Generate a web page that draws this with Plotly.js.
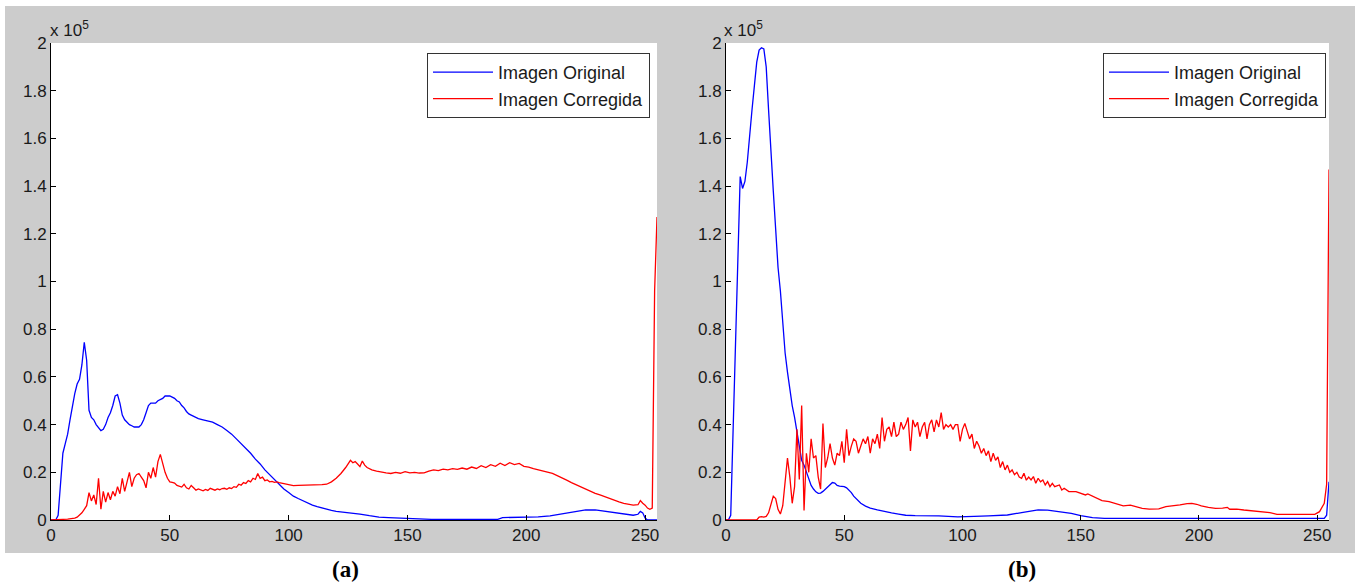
<!DOCTYPE html>
<html>
<head>
<meta charset="utf-8">
<script src="https://cdn.plot.ly/plotly-3.0.1.min.js"></script>
<style>
  html, body { margin: 0; padding: 0; background: #ffffff; }
  #chart { width: 1359px; height: 582px; }
</style>
</head>
<body>
<div id="chart"></div>
<script>
// Grey-level histograms (counts in units of 10^5 pixels), [level, count] pairs.
// Panel (a)
const originalA = [[0,0],[2,0],[3,0.02],[4,0.15],[5,0.28],[6,0.32],[7,0.36],[8,0.42],[9,0.48],[10,0.53],
  [11,0.57],[12,0.59],[13,0.65],[14,0.745],[15,0.67],[16,0.46],[17,0.43],[18,0.42],[19,0.40],[20,0.385],
  [21,0.375],[22,0.38],[23,0.40],[24,0.43],[25,0.45],[26,0.48],[27,0.52],[28,0.525],[29,0.49],[30,0.44],
  [31,0.42],[32,0.41],[33,0.40],[34,0.395],[35,0.39],[36,0.39],[37,0.39],[38,0.40],[39,0.42],[40,0.45],
  [41,0.48],[42,0.49],[43,0.49],[44,0.49],[45,0.50],[46,0.505],[47,0.51],[48,0.52],[49,0.52],[50,0.52],
  [51,0.515],[52,0.51],[53,0.50],[54,0.495],[55,0.48],[56,0.47],[57,0.455],[58,0.445],[59,0.44],[60,0.435],
  [62,0.425],[64,0.42],[66,0.415],[68,0.41],[70,0.40],[72,0.39],[74,0.375],[76,0.36],[78,0.34],[80,0.32],
  [82,0.30],[84,0.28],[86,0.255],[88,0.235],[90,0.21],[92,0.19],[94,0.17],[96,0.15],[98,0.13],[100,0.115],
  [102,0.10],[104,0.09],[106,0.08],[108,0.07],[110,0.062],[112,0.056],[114,0.05],[116,0.046],[118,0.04],[120,0.036],
  [122,0.034],[126,0.028],[130,0.025],[134,0.018],[138,0.012],[142,0.01],[146,0.008],[150,0.007],[155,0.005],[160,0.003],
  [170,0.003],[180,0.003],[188,0.003],[190,0.01],[195,0.011],[200,0.011],[205,0.013],[210,0.017],[213,0.022],[217,0.031],
  [221,0.037],[225,0.042],[229,0.042],[233,0.037],[237,0.032],[240,0.028],[243,0.022],[245,0.02],[247,0.024],[248,0.036],
  [249,0.03],[250,0.008],[251,0],[255,0]];

const correctedA = [[0,0],[4,0],[5,0.003],[7,0.004],[9,0.005],[10,0.008],[11,0.012],[12,0.02],[13,0.03],[14,0.045],
  [15,0.06],[16,0.115],[17,0.08],[18,0.105],[19,0.065],[20,0.175],[21,0.045],[22,0.12],[23,0.075],[24,0.115],
  [25,0.085],[26,0.12],[27,0.1],[28,0.14],[29,0.11],[30,0.175],[31,0.12],[32,0.16],[33,0.2],[34,0.14],
  [35,0.175],[36,0.19],[37,0.195],[38,0.18],[39,0.165],[40,0.135],[41,0.2],[42,0.175],[43,0.22],[44,0.18],
  [45,0.245],[46,0.275],[47,0.235],[48,0.2],[49,0.175],[50,0.16],[51,0.158],[52,0.155],[53,0.145],[54,0.14],
  [55,0.138],[56,0.15],[57,0.135],[58,0.13],[59,0.145],[60,0.135],[61,0.125],[62,0.13],[63,0.125],[64,0.122],
  [65,0.128],[66,0.124],[67,0.133],[68,0.128],[69,0.125],[70,0.13],[71,0.127],[72,0.132],[73,0.133],[74,0.129],
  [75,0.135],[76,0.132],[77,0.14],[78,0.137],[79,0.15],[80,0.146],[81,0.157],[82,0.153],[83,0.165],[84,0.16],
  [85,0.175],[86,0.17],[87,0.195],[88,0.175],[89,0.18],[90,0.165],[91,0.168],[92,0.16],[93,0.162],[94,0.158],
  [95,0.16],[96,0.157],[97,0.155],[98,0.152],[99,0.153],[100,0.148],[102,0.144],[104,0.145],[106,0.145],
  [108,0.146],[110,0.145],[112,0.147],[114,0.148],[116,0.15],[118,0.16],[120,0.175],[122,0.195],[124,0.22],[126,0.25],
  [127,0.24],[128,0.245],[129,0.235],[130,0.224],[131,0.247],[132,0.23],[133,0.22],[135,0.21],[137,0.205],[139,0.2],
  [141,0.198],[143,0.195],[145,0.2],[147,0.196],[149,0.203],[151,0.198],[153,0.2],[155,0.197],[157,0.198],[159,0.205],
  [161,0.21],[163,0.207],[165,0.213],[167,0.21],[169,0.215],[171,0.212],[173,0.218],[175,0.213],[177,0.222],[179,0.216],
  [181,0.228],[183,0.22],[185,0.232],[187,0.225],[189,0.238],[191,0.228],[193,0.24],[195,0.232],[197,0.237],[199,0.225],
  [201,0.222],[203,0.215],[205,0.21],[207,0.208],[209,0.203],[211,0.195],[213,0.186],[215,0.175],[217,0.167],[219,0.157],
  [221,0.148],[223,0.138],[225,0.128],[227,0.12],[229,0.112],[231,0.105],[233,0.097],[235,0.09],[237,0.083],[239,0.076],
  [241,0.07],[243,0.066],[245,0.062],[247,0.064],[248,0.081],[249,0.07],[250,0.062],[251,0.05],[252,0.045],[253,0.05],
  [254,0.96],[255,1.27]];

// Panel (b)
const originalB = [[0,0],[1,0],[2,0.02],[3,0.35],[4,0.72],[5,1.08],[6,1.44],[7,1.39],[8,1.42],[9,1.50],
  [10,1.63],[11,1.72],[12,1.82],[13,1.92],[14,1.97],[15,1.98],[16,1.975],[17,1.90],[18,1.72],[19,1.52],
  [20,1.38],[21,1.22],[22,1.06],[23,0.96],[24,0.82],[25,0.70],[26,0.62],[27,0.54],[28,0.48],[29,0.43],
  [30,0.37],[31,0.30],[32,0.25],[33,0.23],[34,0.20],[35,0.17],[36,0.145],[37,0.13],[38,0.118],[39,0.112],
  [40,0.113],[41,0.12],[42,0.13],[43,0.14],[44,0.15],[45,0.157],[46,0.155],[47,0.145],[48,0.142],[49,0.141],
  [50,0.14],[51,0.135],[52,0.127],[53,0.115],[54,0.1],[55,0.09],[57,0.07],[59,0.058],[61,0.05],[64,0.042],
  [67,0.035],[70,0.03],[73,0.025],[76,0.02],[80,0.018],[90,0.017],[98,0.013],[101,0.013],[105,0.015],[111,0.017],
  [119,0.021],[125,0.031],[129,0.037],[132,0.042],[136,0.041],[140,0.037],[143,0.034],[146,0.028],[150,0.018],[155,0.01],
  [160,0.007],[200,0.007],[253,0.007],[254,0.02],[255,0.16]];

const correctedB = [[0,0],[13,0],[14,0.012],[15,0.014],[16,0.012],[17,0.015],[18,0.03],[19,0.07],[20,0.1],[21,0.09],
  [22,0.045],[23,0.025],[24,0.06],[25,0.16],[26,0.26],[27,0.18],[28,0.07],[29,0.14],[30,0.38],[31,0.17],
  [32,0.48],[33,0.04],[34,0.28],[35,0.2],[36,0.34],[37,0.26],[38,0.27],[39,0.18],[40,0.13],[41,0.405],
  [42,0.22],[43,0.26],[44,0.32],[45,0.26],[46,0.23],[47,0.28],[48,0.27],[49,0.33],[50,0.24],[51,0.38],
  [52,0.27],[53,0.31],[54,0.34],[55,0.33],[56,0.28],[57,0.31],[58,0.34],[59,0.32],[60,0.35],[61,0.28],
  [62,0.34],[63,0.32],[64,0.36],[65,0.30],[66,0.43],[67,0.33],[68,0.38],[69,0.39],[70,0.35],[71,0.41],
  [72,0.35],[73,0.36],[74,0.41],[75,0.38],[76,0.40],[77,0.43],[78,0.29],[79,0.42],[80,0.39],[81,0.41],
  [82,0.35],[83,0.39],[84,0.41],[85,0.34],[86,0.40],[87,0.42],[88,0.37],[89,0.42],[90,0.39],[91,0.45],
  [92,0.38],[93,0.40],[94,0.39],[95,0.40],[96,0.38],[97,0.40],[98,0.40],[99,0.33],[100,0.38],[101,0.405],
  [102,0.37],[103,0.34],[104,0.36],[105,0.30],[106,0.33],[107,0.31],[108,0.28],[109,0.30],[110,0.27],[111,0.29],
  [112,0.245],[113,0.28],[114,0.25],[115,0.265],[116,0.22],[117,0.245],[118,0.21],[119,0.23],[120,0.2],[121,0.21],
  [122,0.19],[123,0.2],[124,0.18],[125,0.175],[126,0.196],[127,0.167],[128,0.18],[129,0.168],[130,0.182],[131,0.154],
  [132,0.175],[133,0.16],[134,0.168],[135,0.147],[136,0.161],[137,0.14],[138,0.154],[139,0.14],[141,0.147],[142,0.126],
  [143,0.133],[145,0.119],[148,0.119],[150,0.112],[152,0.105],[153,0.109],[155,0.1],[157,0.09],[159,0.081],[162,0.077],
  [165,0.067],[168,0.059],[171,0.062],[173,0.056],[176,0.049],[179,0.046],[183,0.047],[186,0.056],[189,0.059],[192,0.063],
  [195,0.069],[197,0.07],[199,0.066],[201,0.059],[204,0.053],[207,0.049],[210,0.05],[212,0.053],[213,0.045],[216,0.046],
  [219,0.042],[223,0.038],[227,0.035],[230,0.031],[233,0.024],[240,0.024],[249,0.024],[251,0.035],[252,0.05],[253,0.07],
  [254,0.15],[255,1.47]];

const seriesNames = ['Imagen Original', 'Imagen Corregida'];
const seriesColors = ['#0000ff', '#ff0000'];
const xTicks = [0, 50, 100, 150, 200, 250];
const yTicks = [0, 0.2, 0.4, 0.6, 0.8, 1, 1.2, 1.4, 1.6, 1.8, 2];
const yTickText = ['0', '0.2', '0.4', '0.6', '0.8', '1', '1.2', '1.4', '1.6', '1.8', '2'];
const panelLabels = ['(a)', '(b)'];

// Page geometry in pixels, converted to paper fractions
const W = 1359, H = 582;
const fx = x => x / W;
const fy = y => 1 - y / H;

function line(pairs, idx, xa, ya, legend) {
  return {
    type: 'scatter', mode: 'lines',
    x: pairs.map(p => p[0]), y: pairs.map(p => p[1]),
    name: seriesNames[idx], xaxis: xa, yaxis: ya, legend: legend,
    line: { color: seriesColors[idx], width: 1.3 },
    hoverinfo: 'skip'
  };
}

const traces = [
  line(originalA, 0, 'x', 'y', 'legend'),
  line(correctedA, 1, 'x', 'y', 'legend'),
  line(originalB, 0, 'x2', 'y2', 'legend2'),
  line(correctedB, 1, 'x2', 'y2', 'legend2')
];

const tickFont = { family: 'Liberation Sans, Arial, sans-serif', size: 17, color: '#1a1a1a' };

function xAxis(domain, anchor) {
  return {
    domain: domain, anchor: anchor, range: [0, 255],
    tickmode: 'array', tickvals: xTicks, ticktext: xTicks.map(String),
    ticks: 'inside', ticklen: 5, tickwidth: 1, tickcolor: '#000',
    showline: true, linecolor: '#000', linewidth: 1,
    showgrid: false, zeroline: false, tickfont: tickFont, fixedrange: true
  };
}
function yAxis(domain, anchor) {
  return {
    domain: domain, anchor: anchor, range: [0, 2],
    tickmode: 'array', tickvals: yTicks, ticktext: yTickText,
    ticks: 'inside', ticklen: 5, tickwidth: 1, tickcolor: '#000',
    showline: true, linecolor: '#000', linewidth: 1,
    showgrid: false, zeroline: false, tickfont: tickFont, fixedrange: true
  };
}

const legendStyle = (xRight) => ({
  x: fx(xRight), xanchor: 'right', y: fy(53), yanchor: 'top',
  bgcolor: '#ffffff', bordercolor: '#333333', borderwidth: 1,
  font: { family: 'Liberation Sans, Arial, sans-serif', size: 18, color: '#1a1a1a' },
  itemwidth: 60, tracegroupgap: 0
});

const layout = {
  width: W, height: H,
  margin: { l: 0, r: 0, t: 0, b: 0 },
  paper_bgcolor: '#ffffff', plot_bgcolor: '#ffffff',
  showlegend: true,
  xaxis: xAxis([fx(51), fx(657)], 'y'),
  yaxis: yAxis([fy(520), fy(43)], 'x'),
  xaxis2: xAxis([fx(726), fx(1329)], 'y2'),
  yaxis2: yAxis([fy(520), fy(43)], 'x2'),
  legend: legendStyle(650),
  legend2: legendStyle(1326),
  shapes: [
    { type: 'rect', xref: 'paper', yref: 'paper', x0: fx(5), x1: fx(1355), y0: fy(553), y1: fy(6),
      fillcolor: '#cccccc', line: { width: 0 }, layer: 'below' },
    { type: 'rect', xref: 'paper', yref: 'paper', x0: fx(51), x1: fx(657), y0: fy(520), y1: fy(43),
      fillcolor: '#ffffff', line: { width: 0 }, layer: 'below' },
    { type: 'rect', xref: 'paper', yref: 'paper', x0: fx(726), x1: fx(1329), y0: fy(520), y1: fy(43),
      fillcolor: '#ffffff', line: { width: 0 }, layer: 'below' }
  ],
  annotations: [
    { text: 'x 10<sup>5</sup>', xref: 'paper', yref: 'paper', x: fx(48), y: fy(29),
      xanchor: 'left', yanchor: 'middle', showarrow: false, font: tickFont },
    { text: 'x 10<sup>5</sup>', xref: 'paper', yref: 'paper', x: fx(722), y: fy(29),
      xanchor: 'left', yanchor: 'middle', showarrow: false, font: tickFont },
    { text: panelLabels[0], xref: 'paper', yref: 'paper', x: fx(345), y: fy(569),
      xanchor: 'center', yanchor: 'middle', showarrow: false,
      font: { family: 'Liberation Serif, Times New Roman, serif', size: 23, color: '#000', weight: 'bold' } },
    { text: panelLabels[1], xref: 'paper', yref: 'paper', x: fx(1022), y: fy(569),
      xanchor: 'center', yanchor: 'middle', showarrow: false,
      font: { family: 'Liberation Serif, Times New Roman, serif', size: 23, color: '#000', weight: 'bold' } }
  ]
};

Plotly.newPlot('chart', traces, layout, { staticPlot: true, displayModeBar: false });
</script>
</body>
</html>
